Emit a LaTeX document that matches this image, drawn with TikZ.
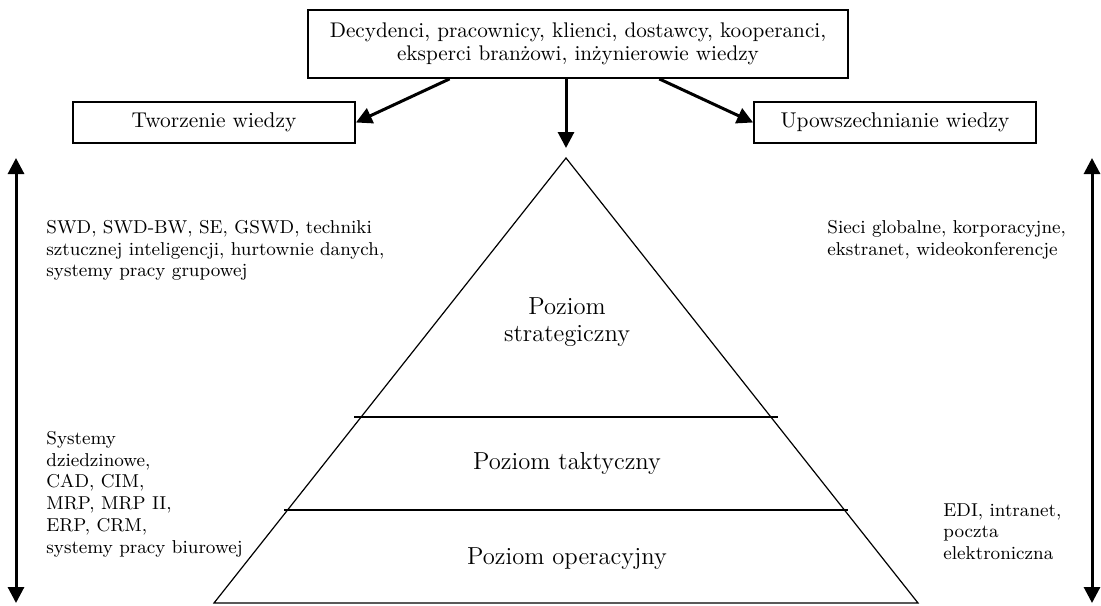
\documentclass[tikz,border=0pt]{standalone}
\usepackage{tikz}
\usetikzlibrary{arrows.meta,calc}

\tikzset{
	box/.style={draw,line width=0.9pt,inner sep=0pt,align=center},
	arr/.style={line width=1.5pt,-{Triangle[length=8pt,width=8pt]}},
	twoarr/.style={line width=1.5pt,{Triangle[length=8pt,width=8pt]}-{Triangle[length=8pt,width=8pt]}},
	side/.style={anchor=north west,inner sep=0pt,align=left,font=\fontsize{9.3}{10.85}\selectfont},
	level/.style={align=center,inner sep=0pt,font=\fontsize{12.3}{13.5}\selectfont},
}

\begin{document}
\begin{tikzpicture}[x=0.5pt,y=-0.5pt]
	\useasboundingbox (0,0) rectangle (1101,605);

	\node[box,minimum width=270pt,minimum height=34pt,font=\fontsize{10.6}{11.7}\selectfont] (who) at (578,44) {Decydenci, pracownicy, klienci, dostawcy, kooperanci,\\eksperci branżowi, inżynierowie wiedzy};
	\node[box,minimum width=141pt,minimum height=20.5pt,font=\fontsize{10.7}{12}\selectfont] (create) at (214,122.5) {Tworzenie wiedzy};
	\node[box,minimum width=141pt,minimum height=20.5pt,font=\fontsize{10.7}{12}\selectfont] (spread) at (895,122.5) {Upowszechnianie wiedzy};

	% piramida
	\coordinate (apex) at (566,158);
	\coordinate (bl) at (214,603);
	\coordinate (br) at (918,603);
	\draw[line width=0.6pt] (apex) -- (bl) -- (br) -- cycle;
	\draw[line width=0.8pt] (354,417) -- (778,417);
	\draw[line width=0.8pt] (284,510) -- (848,510);

	\node[level] (strat) at (567,322) {Poziom\\strategiczny};
	\node[level] (tact) at (567,463) {Poziom taktyczny};
	\node[level] (oper) at (567,559) {Poziom operacyjny};

	\draw[arr] ($(who.south west)!0.263!(who.south east)$) -- (create.east);
	\draw[arr] ($(who.south west)!0.65!(who.south east)$) -- (spread.west);
	\draw[arr] (who.south -| apex) -- ($(apex)+(0,-10)$);

	% strzalki boczne
	\coordinate (lup) at (16,158);
	\coordinate (ldown) at (16,603);
	\coordinate (rup) at (1092,158);
	\coordinate (rdown) at (1092,603);
	\draw[twoarr] (lup) -- (ldown);
	\draw[twoarr] (rup) -- (rdown);

	\node[side] (ltop) at (46,220) {SWD, SWD-BW, SE, GSWD, techniki\\sztucznej inteligencji, hurtownie danych,\\systemy pracy grupowej};
	\node[side] (lbot) at (46,431) {Systemy\\dziedzinowe,\\CAD, CIM,\\MRP, MRP II,\\ERP, CRM,\\systemy pracy biurowej};
	\node[side] (rtop) at (827,220) {Sieci globalne, korporacyjne,\\ekstranet, wideokonferencje};
	\node[side] (rbot) at (943,503) {EDI, intranet,\\poczta\\elektroniczna};
\end{tikzpicture}
\end{document}
